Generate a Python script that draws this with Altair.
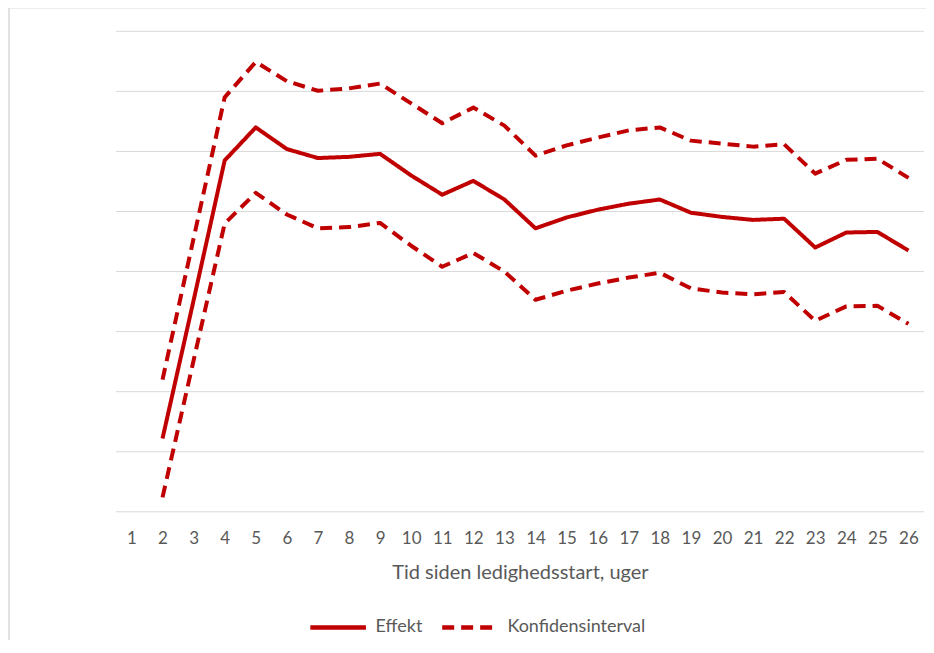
import altair as alt
import pandas as pd

weeks = list(range(1, 27))
effekt = [None, -1.78, 0.52, 2.85, 3.40, 3.04, 2.89, 2.91, 2.96, 2.60, 2.28, 2.51, 2.20,
          1.72, 1.90, 2.03, 2.13, 2.20, 1.98, 1.91, 1.86, 1.88, 1.40, 1.65, 1.66, 1.35]
upper = [None, -0.80, 1.55, 3.90, 4.49, 4.17, 4.01, 4.05, 4.13, 3.80, 3.47, 3.73, 3.43,
         2.93, 3.10, 3.23, 3.35, 3.40, 3.18, 3.13, 3.08, 3.12, 2.63, 2.86, 2.88, 2.56]
lower = [None, -2.76, -0.48, 1.80, 2.31, 1.95, 1.72, 1.74, 1.81, 1.43, 1.08, 1.31, 1.00,
         0.53, 0.68, 0.80, 0.90, 0.98, 0.72, 0.65, 0.62, 0.66, 0.18, 0.42, 0.43, 0.13]
y_ticks = [-3, -2, -1, 0, 1, 2, 3, 4, 5]

rows = []
for name, series, vals in [("effekt", "Effekt", effekt),
                           ("upper", "Konfidensinterval", upper),
                           ("lower", "Konfidensinterval", lower)]:
    for w, v in zip(weeks, vals):
        rows.append({"uge": str(w), "værdi": v, "linje": name, "serie": series})
df = pd.DataFrame(rows)
grid_df = pd.DataFrame({"værdi": y_ticks})

FONT = "Lato"
GREY = "#595959"
RED = "#C00000"
W, H = 809, 481

xscale = alt.Scale(type="point", padding=0.5, domain=[str(w) for w in weeks])
yscale = alt.Scale(domain=[-3, 5], nice=False)

legend = alt.Legend(title=None, orient="none", direction="horizontal",
                    legendX=192, legendY=566, padding=0,
                    symbolType="stroke", symbolSize=3100,
                    symbolStrokeWidth=4.5, columnPadding=10,
                    labelFontSize=18, labelColor=GREY, labelFont=FONT,
                    labelOffset=7)

grid = alt.Chart(grid_df).mark_rule(color="#d9d9d9", strokeWidth=1).encode(
    y=alt.Y("værdi:Q", scale=yscale, axis=None),
    x=alt.value(0), x2=alt.value(W),
)

lines = alt.Chart(df).mark_line(strokeWidth=4, strokeCap="butt", strokeJoin="round").encode(
    x=alt.X("uge:N", scale=xscale, sort=None,
            axis=alt.Axis(title="Tid siden ledighedsstart, uger", labelAngle=0,
                          ticks=False, domain=False, grid=False,
                          labelPadding=19, titlePadding=16,
                          labelFontSize=17, titleFontSize=20,
                          labelColor=GREY, titleColor=GREY,
                          labelFont=FONT, titleFont=FONT, titleFontWeight="normal")),
    y=alt.Y("værdi:Q", scale=yscale,
            axis=alt.Axis(title="Procent-points", values=y_ticks,
                          labelExpr="datum.value + '%'", ticks=False, domain=False,
                          grid=False,
                          labelPadding=14, titlePadding=16,
                          labelFontSize=17, titleFontSize=19,
                          labelColor=GREY, titleColor=GREY,
                          labelFont=FONT, titleFont=FONT, titleFontWeight="normal")),
    detail="linje:N",
    color=alt.Color("serie:N", scale=alt.Scale(domain=["Effekt", "Konfidensinterval"],
                                               range=[RED, RED]),
                    legend=legend),
    strokeDash=alt.StrokeDash("serie:N",
                              scale=alt.Scale(domain=["Effekt", "Konfidensinterval"],
                                              range=[[1, 0], [12, 7]]),
                              legend=legend),
)

one = pd.DataFrame({"a": [0]})
frame_left = alt.Chart(one).mark_rule(color="#d9d9d9", strokeWidth=1.5, clip=False).encode(
    x=alt.value(-107), y=alt.value(-23.5), y2=alt.value(H + 200))
frame_top = alt.Chart(one).mark_rule(color="#d9d9d9", strokeWidth=1.5, clip=False).encode(
    x=alt.value(-107), x2=alt.value(W + 40), y=alt.value(-23.5))

chart = (
    alt.layer(frame_left, frame_top, grid, lines)
    .properties(
        width=W, height=H,
        background="white",
        autosize=alt.AutoSizeParams(type="none"),
        padding={"left": 108, "top": 23, "right": 2, "bottom": 128},
    )
    .configure_view(stroke="transparent", strokeWidth=0)
    .configure_axis(domain=False, ticks=False, grid=False)
)

chart.save("out.html", embed_options={"renderer": "svg", "actions": False})
